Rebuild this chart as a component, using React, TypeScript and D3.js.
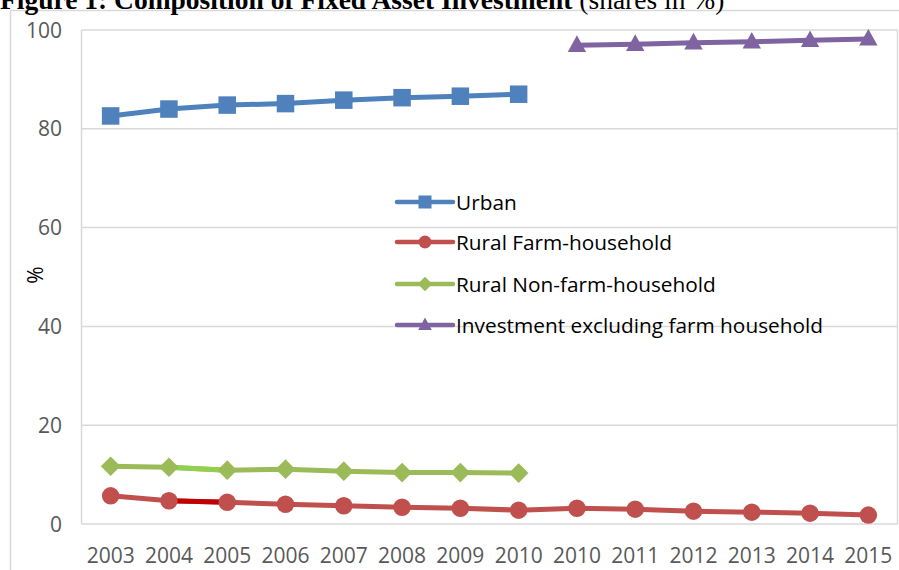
import React from "react";
import * as d3 from "d3";

const categories = ["2003","2004","2005","2006","2007","2008","2009","2010","2010","2011","2012","2013","2014","2015"];
const urban = [82.6, 84.0, 84.8, 85.1, 85.8, 86.3, 86.6, 87.0, null, null, null, null, null, null];
const ruralFarm = [5.7, 4.7, 4.4, 4.0, 3.7, 3.4, 3.2, 2.8, 3.2, 3.0, 2.6, 2.4, 2.2, 1.8];
const ruralNonFarm = [11.7, 11.5, 10.9, 11.1, 10.7, 10.4, 10.4, 10.3, null, null, null, null, null, null];
const investExFarm = [null, null, null, null, null, null, null, null, 96.9, 97.1, 97.4, 97.6, 97.9, 98.2];
const yTicks = [0, 20, 40, 60, 80, 100];
const seriesNames = ["Urban", "Rural Farm-household", "Rural Non-farm-household", "Investment excluding farm household"];

type Series = { name: string; values: (number | null)[]; color: string; marker: string; special?: { seg: number; color: string } };

const series: Series[] = [
  { name: seriesNames[0], values: urban, color: "#4F81BD", marker: "square" },
  { name: seriesNames[1], values: ruralFarm, color: "#C0504D", marker: "circle", special: { seg: 1, color: "#C00000" } },
  { name: seriesNames[2], values: ruralNonFarm, color: "#9BBB59", marker: "diamond", special: { seg: 1, color: "#92D050" } },
  { name: seriesNames[3], values: investExFarm, color: "#8064A2", marker: "triangle" },
];

const W = 899, H = 570;
const left = 81.5, right = 897.5, top = 30, bottom = 524;
const font = "'Open Sans', 'Noto Sans', sans-serif";

function Marker({ type, x, y, color, s }: { type: string; x: number; y: number; color: string; s: number }) {
  if (type === "square") return <rect x={x - s / 2} y={y - s / 2} width={s} height={s} fill={color} />;
  if (type === "circle") return <circle cx={x} cy={y} r={s / 2} fill={color} />;
  if (type === "diamond") {
    const h = s * 0.56;
    return <path d={`M${x},${y - h}L${x + h},${y}L${x},${y + h}L${x - h},${y}Z`} fill={color} />;
  }
  const w = s * 1.05, hh = s * 0.95;
  return <path d={`M${x},${y - hh * 0.6}L${x + w / 2},${y + hh * 0.4}L${x - w / 2},${y + hh * 0.4}Z`} fill={color} />;
}

export default function App() {
  const x = d3.scalePoint<number>().domain(categories.map((_, i) => i)).range([left, right]).padding(0.5);
  const y = d3.scaleLinear().domain([0, 100]).range([bottom, top]);
  const line = d3.line<[number, number | null]>()
    .defined((d) => d[1] !== null)
    .x((d) => x(d[0]) as number)
    .y((d) => y(d[1] as number));

  const legendY = [202, 242, 284, 325];
  const legX1 = 397, legX2 = 453, legText = 456;

  return (
    <svg width={W} height={H} style={{ position: "absolute", left: 0, top: 0, background: "#fff" }}>
      <rect x={10.5} y={10.5} width={W + 20} height={H + 20} fill="none" stroke="#d9d9d9" strokeWidth={1.5} />
      <text x={0} y={9} fontFamily="'Liberation Serif', 'Times New Roman', serif" fontSize={27.5} fill="#000">
        <tspan fontWeight="bold">Figure 1: Composition of Fixed Asset Investment</tspan>
        <tspan> (shares in %)</tspan>
      </text>
      {yTicks.map((t) => (
        <g key={t}>
          <line x1={left} x2={right} y1={y(t)} y2={y(t)} stroke="#d9d9d9" strokeWidth={1.5} />
          <text x={62} y={y(t) + 7.5} textAnchor="end" fontFamily={font} fontSize={21} fill="#595959">{t}</text>
        </g>
      ))}
      <line x1={left} x2={left} y1={top} y2={bottom} stroke="#d9d9d9" strokeWidth={1.5} />
      <line x1={right} x2={right} y1={top} y2={bottom} stroke="#d9d9d9" strokeWidth={1.5} />
      {categories.map((c, i) => (
        <text key={i} x={x(i)} y={563} textAnchor="middle" fontFamily={font} fontSize={21} fill="#595959">{c}</text>
      ))}
      <text transform={`translate(43,275) rotate(-90)`} textAnchor="middle" fontFamily={font} fontSize={21} fill="#000">%</text>
      {series.map((s) => {
        const pts = s.values.map((v, i) => [i, v] as [number, number | null]);
        return (
          <g key={s.name}>
            <path d={line(pts) || ""} fill="none" stroke={s.color} strokeWidth={5} strokeLinejoin="round" />
            {s.special && (
              <path d={line(pts.slice(s.special.seg, s.special.seg + 2)) || ""} fill="none" stroke={s.special.color} strokeWidth={5} />
            )}
            {pts.filter((p) => p[1] !== null).map((p) => (
              <Marker key={p[0]} type={s.marker} x={x(p[0]) as number} y={y(p[1] as number)} color={s.color} s={17.5} />
            ))}
          </g>
        );
      })}
      {series.map((s, i) => (
        <g key={"leg" + i}>
          <line x1={legX1} x2={legX2} y1={legendY[i]} y2={legendY[i]} stroke={s.color} strokeWidth={4.5} strokeLinecap="round" />
          <Marker type={s.marker} x={(legX1 + legX2) / 2} y={legendY[i]} color={s.color} s={13} />
          <text x={legText} y={legendY[i] + 7.5} fontFamily={font} fontSize={20.8} fill="#000">{s.name}</text>
        </g>
      ))}
    </svg>
  );
}
